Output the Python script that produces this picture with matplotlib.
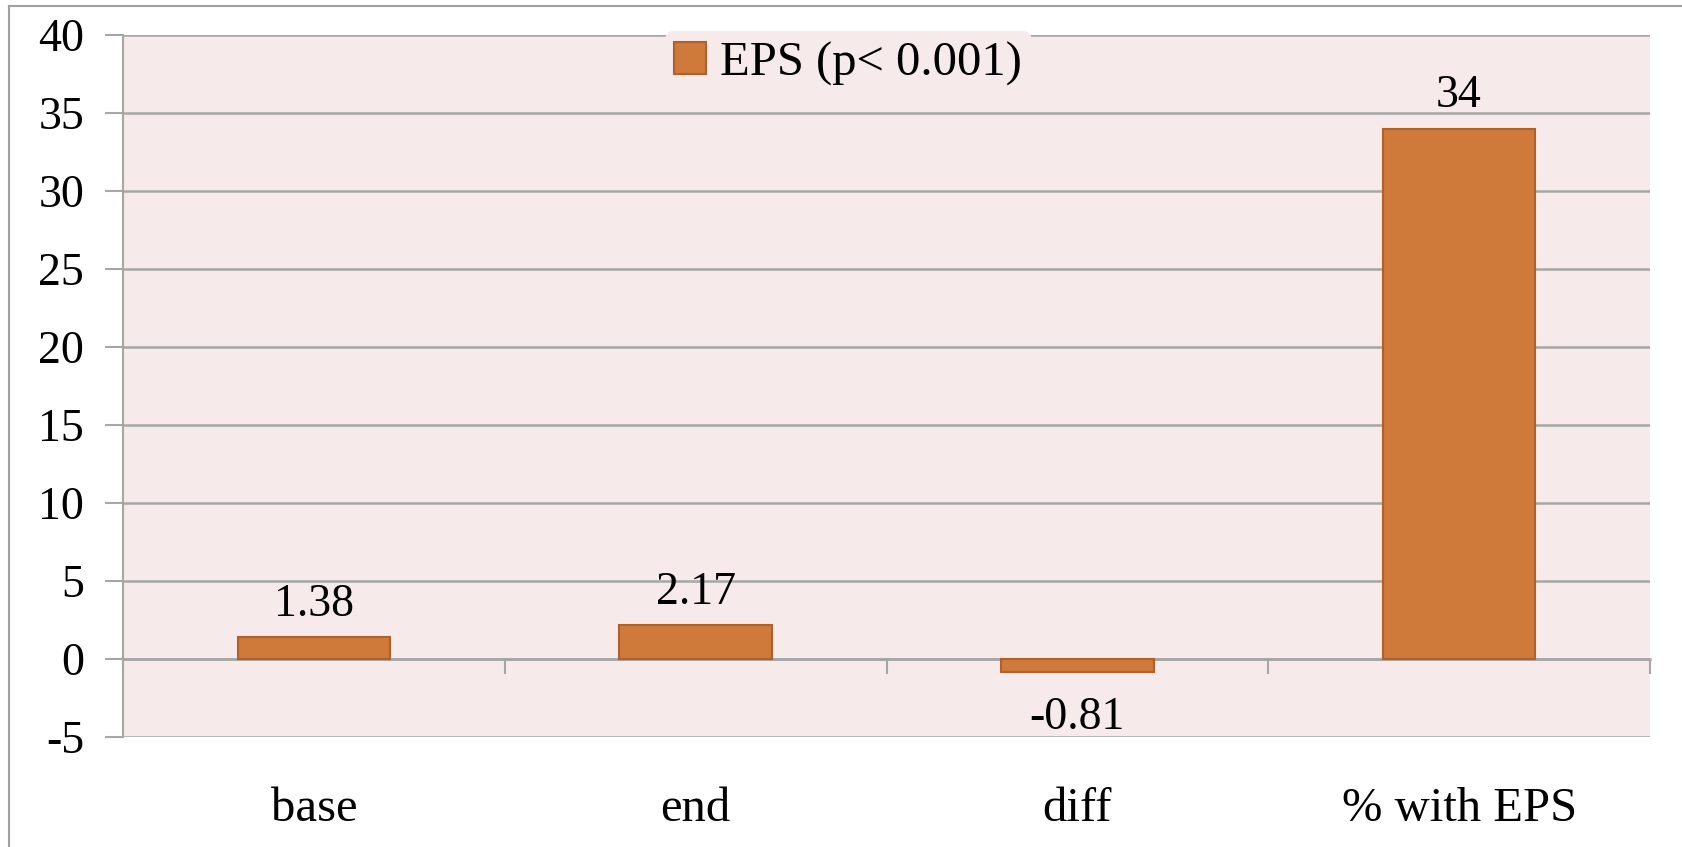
import matplotlib
matplotlib.use("Agg")
import matplotlib.pyplot as plt
from matplotlib.lines import Line2D

# EPS summary values
categories = ["base", "end", "diff", "% with EPS"]
eps_values = [1.38, 2.17, -0.81, 34]
series_name = "EPS (p< 0.001)"
yticks = [-5, 0, 5, 10, 15, 20, 25, 30, 35, 40]

bar_color = "#CF7A3B"
edge_color = "#B0612A"
bg_color = "#F6EAEA"
grid_color = "#A6A6A6"

plt.rcParams["font.family"] = ["Liberation Serif", "DejaVu Serif"]
plt.rcParams["axes.unicode_minus"] = False

W, H = 1682, 847
fig = plt.figure(figsize=(W / 100, H / 100), dpi=100)
ax = fig.add_axes([123 / W, (H - 737) / H, (1650 - 123) / W, (737 - 35) / H])
ax.set_facecolor(bg_color)

x = list(range(len(categories)))
bars = ax.bar(x, eps_values, width=0.4, color=bar_color, edgecolor=edge_color,
              linewidth=1.5, zorder=3, label=series_name)
# positive labels sit just above the bar, negative ones a bit further below
ax.bar_label(bars, labels=["%g" % v if v >= 0 else "" for v in eps_values],
             padding=8, fontsize=33)
ax.bar_label(bars, labels=["%g" % v if v < 0 else "" for v in eps_values],
             padding=18, fontsize=33)

ax.set_xlim(-0.5, len(categories) - 0.5)
ax.set_ylim(-5, 40)
ax.set_yticks(yticks)
ax.yaxis.grid(True, color=grid_color, linewidth=1.8, zorder=0)
ax.set_axisbelow(True)
ax.tick_params(axis="y", length=13, width=1.5, color=grid_color, pad=15, labelsize=33)

for s in ["top", "right"]:
    ax.spines[s].set_visible(False)
ax.spines["left"].set_color(grid_color)
ax.spines["left"].set_linewidth(1.5)

# category axis sits on zero, with separator ticks between categories
ax.spines["bottom"].set_position(("data", 0))
ax.spines["bottom"].set_color(grid_color)
ax.spines["bottom"].set_linewidth(1.8)
ax.set_xticks([])
ax.set_xticks([i - 0.5 for i in range(len(categories) + 1)], minor=True)
ax.tick_params(axis="x", which="minor", direction="out", length=11, width=1.5,
               color=grid_color)

# category names below the plot area
sec = ax.secondary_xaxis("bottom")
sec.set_xticks(x)
sec.set_xticklabels(categories, fontsize=35)
sec.tick_params(length=0, pad=36)
sec.spines["bottom"].set_visible(False)

leg = ax.legend(loc="upper center", bbox_to_anchor=(0.475, 1.005), fontsize=35,
                frameon=True, facecolor=bg_color, edgecolor="none", framealpha=1,
                handlelength=0.65, handleheight=0.65, handletextpad=0.3,
                borderpad=0.2, borderaxespad=0)
leg.set_zorder(5)

# outer frame on top and left
fig.add_artist(Line2D([9 / W, 1], [1 - 6 / H, 1 - 6 / H], color="#A0A0A0", lw=1.5))
fig.add_artist(Line2D([9 / W, 9 / W], [0, 1 - 6 / H], color="#A0A0A0", lw=1.5))

fig.savefig("out.png", dpi=100, facecolor="white")
